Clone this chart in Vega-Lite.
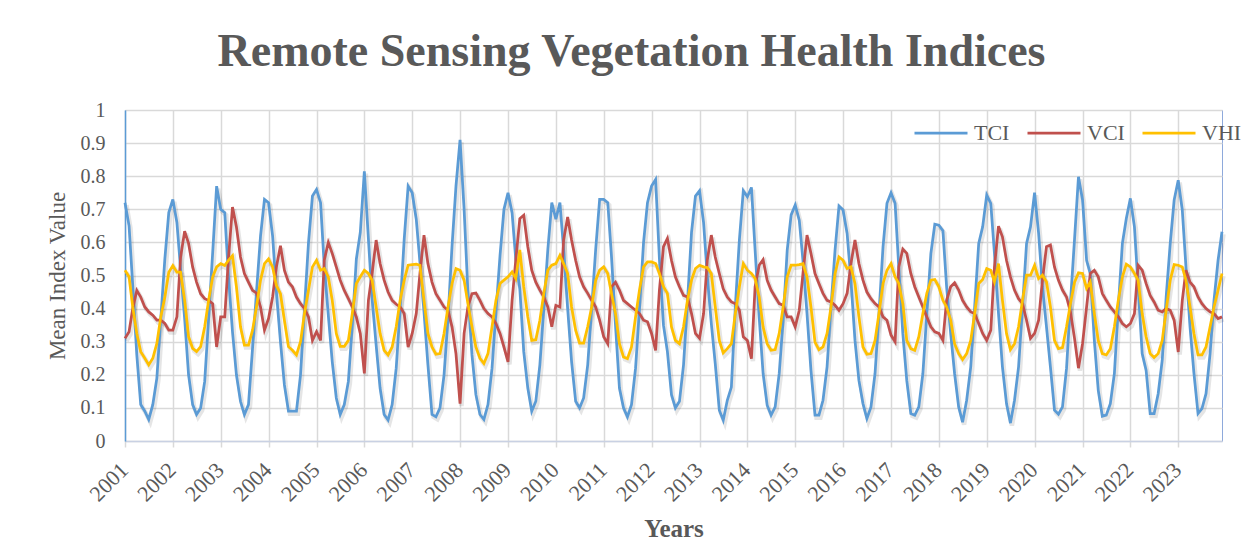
{
"$schema": "https://vega.github.io/schema/vega-lite/v6.json",
"autosize": {"type": "none"},
"padding": {"left": 125, "top": 110, "right": 28, "bottom": 118},
"width": 1097,
"height": 331,
"background": "white",
"title": {"text": "Remote Sensing Vegetation Health Indices", "font": "Liberation Serif", "fontSize": 46, "fontWeight": "bold", "color": "#595959", "anchor": "middle", "frame": "group", "dx": -42, "dy": 45, "baseline": "alphabetic", "offset": 33},
"data": {"format": {"parse": {"d": "utc:'%Y-%m'"}}, "values": [
{"d":"2001-01","TCI":0.72,"VCI":0.31,"VHI":0.516},{"d":"2001-02","TCI":0.65,"VCI":0.33,"VHI":0.496},{"d":"2001-03","TCI":0.47,"VCI":0.40,"VHI":0.405},{"d":"2001-04","TCI":0.26,"VCI":0.455,"VHI":0.325},{"d":"2001-05","TCI":0.11,"VCI":0.435,"VHI":0.27},{"d":"2001-06","TCI":0.09,"VCI":0.405,"VHI":0.25},{"d":"2001-07","TCI":0.065,"VCI":0.39,"VHI":0.23},{"d":"2001-08","TCI":0.11,"VCI":0.38,"VHI":0.25},{"d":"2001-09","TCI":0.19,"VCI":0.365,"VHI":0.295},{"d":"2001-10","TCI":0.37,"VCI":0.365,"VHI":0.375},{"d":"2001-11","TCI":0.55,"VCI":0.355,"VHI":0.435},{"d":"2001-12","TCI":0.69,"VCI":0.335,"VHI":0.51},
{"d":"2002-01","TCI":0.73,"VCI":0.335,"VHI":0.53},{"d":"2002-02","TCI":0.66,"VCI":0.375,"VHI":0.51},{"d":"2002-03","TCI":0.52,"VCI":0.555,"VHI":0.51},{"d":"2002-04","TCI":0.37,"VCI":0.634,"VHI":0.425},{"d":"2002-05","TCI":0.2,"VCI":0.597,"VHI":0.315},{"d":"2002-06","TCI":0.11,"VCI":0.526,"VHI":0.28},{"d":"2002-07","TCI":0.08,"VCI":0.48,"VHI":0.27},{"d":"2002-08","TCI":0.10,"VCI":0.445,"VHI":0.285},{"d":"2002-09","TCI":0.18,"VCI":0.43,"VHI":0.345},{"d":"2002-10","TCI":0.37,"VCI":0.425,"VHI":0.425},{"d":"2002-11","TCI":0.57,"VCI":0.415,"VHI":0.496},{"d":"2002-12","TCI":0.77,"VCI":0.284,"VHI":0.526},
{"d":"2003-01","TCI":0.70,"VCI":0.375,"VHI":0.536},{"d":"2003-02","TCI":0.69,"VCI":0.375,"VHI":0.53},{"d":"2003-03","TCI":0.5,"VCI":0.55,"VHI":0.546},{"d":"2003-04","TCI":0.33,"VCI":0.707,"VHI":0.56},{"d":"2003-05","TCI":0.2,"VCI":0.647,"VHI":0.466},{"d":"2003-06","TCI":0.12,"VCI":0.556,"VHI":0.345},{"d":"2003-07","TCI":0.08,"VCI":0.506,"VHI":0.29},{"d":"2003-08","TCI":0.11,"VCI":0.48,"VHI":0.29},{"d":"2003-09","TCI":0.28,"VCI":0.455,"VHI":0.335},{"d":"2003-10","TCI":0.45,"VCI":0.447,"VHI":0.405},{"d":"2003-11","TCI":0.62,"VCI":0.405,"VHI":0.486},{"d":"2003-12","TCI":0.73,"VCI":0.335,"VHI":0.536},
{"d":"2004-01","TCI":0.72,"VCI":0.37,"VHI":0.55},{"d":"2004-02","TCI":0.62,"VCI":0.435,"VHI":0.526},{"d":"2004-03","TCI":0.45,"VCI":0.526,"VHI":0.47},{"d":"2004-04","TCI":0.3,"VCI":0.59,"VHI":0.445},{"d":"2004-05","TCI":0.17,"VCI":0.516,"VHI":0.365},{"d":"2004-06","TCI":0.09,"VCI":0.48,"VHI":0.285},{"d":"2004-07","TCI":0.09,"VCI":0.466,"VHI":0.274},{"d":"2004-08","TCI":0.09,"VCI":0.435,"VHI":0.26},{"d":"2004-09","TCI":0.2,"VCI":0.415,"VHI":0.3},{"d":"2004-10","TCI":0.4,"VCI":0.4,"VHI":0.385},{"d":"2004-11","TCI":0.6,"VCI":0.375,"VHI":0.456},{"d":"2004-12","TCI":0.74,"VCI":0.304,"VHI":0.526},
{"d":"2005-01","TCI":0.76,"VCI":0.33,"VHI":0.546},{"d":"2005-02","TCI":0.72,"VCI":0.304,"VHI":0.516},{"d":"2005-03","TCI":0.53,"VCI":0.546,"VHI":0.521},{"d":"2005-04","TCI":0.38,"VCI":0.6,"VHI":0.496},{"d":"2005-05","TCI":0.24,"VCI":0.567,"VHI":0.425},{"d":"2005-06","TCI":0.13,"VCI":0.526,"VHI":0.325},{"d":"2005-07","TCI":0.08,"VCI":0.486,"VHI":0.286},{"d":"2005-08","TCI":0.11,"VCI":0.455,"VHI":0.286},{"d":"2005-09","TCI":0.18,"VCI":0.43,"VHI":0.304},{"d":"2005-10","TCI":0.35,"VCI":0.405,"VHI":0.385},{"d":"2005-11","TCI":0.55,"VCI":0.375,"VHI":0.476},{"d":"2005-12","TCI":0.63,"VCI":0.325,"VHI":0.496},
{"d":"2006-01","TCI":0.815,"VCI":0.204,"VHI":0.516},{"d":"2006-02","TCI":0.61,"VCI":0.425,"VHI":0.506},{"d":"2006-03","TCI":0.43,"VCI":0.506,"VHI":0.486},{"d":"2006-04","TCI":0.29,"VCI":0.607,"VHI":0.405},{"d":"2006-05","TCI":0.16,"VCI":0.536,"VHI":0.325},{"d":"2006-06","TCI":0.08,"VCI":0.486,"VHI":0.274},{"d":"2006-07","TCI":0.063,"VCI":0.45,"VHI":0.26},{"d":"2006-08","TCI":0.11,"VCI":0.425,"VHI":0.284},{"d":"2006-09","TCI":0.22,"VCI":0.413,"VHI":0.345},{"d":"2006-10","TCI":0.4,"VCI":0.405,"VHI":0.425},{"d":"2006-11","TCI":0.61,"VCI":0.385,"VHI":0.486},{"d":"2006-12","TCI":0.77,"VCI":0.284,"VHI":0.531},
{"d":"2007-01","TCI":0.75,"VCI":0.325,"VHI":0.533},{"d":"2007-02","TCI":0.67,"VCI":0.385,"VHI":0.534},{"d":"2007-03","TCI":0.54,"VCI":0.506,"VHI":0.531},{"d":"2007-04","TCI":0.39,"VCI":0.622,"VHI":0.425},{"d":"2007-05","TCI":0.23,"VCI":0.536,"VHI":0.325},{"d":"2007-06","TCI":0.08,"VCI":0.48,"VHI":0.284},{"d":"2007-07","TCI":0.073,"VCI":0.445,"VHI":0.262},{"d":"2007-08","TCI":0.1,"VCI":0.425,"VHI":0.264},{"d":"2007-09","TCI":0.2,"VCI":0.405,"VHI":0.325},{"d":"2007-10","TCI":0.37,"VCI":0.395,"VHI":0.405},{"d":"2007-11","TCI":0.59,"VCI":0.345,"VHI":0.476},{"d":"2007-12","TCI":0.77,"VCI":0.264,"VHI":0.521},
{"d":"2008-01","TCI":0.91,"VCI":0.113,"VHI":0.516},{"d":"2008-02","TCI":0.7,"VCI":0.325,"VHI":0.486},{"d":"2008-03","TCI":0.45,"VCI":0.405,"VHI":0.415},{"d":"2008-04","TCI":0.26,"VCI":0.445,"VHI":0.345},{"d":"2008-05","TCI":0.14,"VCI":0.447,"VHI":0.284},{"d":"2008-06","TCI":0.08,"VCI":0.425,"VHI":0.25},{"d":"2008-07","TCI":0.065,"VCI":0.4,"VHI":0.234},{"d":"2008-08","TCI":0.11,"VCI":0.385,"VHI":0.264},{"d":"2008-09","TCI":0.22,"VCI":0.375,"VHI":0.345},{"d":"2008-10","TCI":0.39,"VCI":0.355,"VHI":0.425},{"d":"2008-11","TCI":0.56,"VCI":0.325,"VHI":0.476},{"d":"2008-12","TCI":0.7,"VCI":0.284,"VHI":0.486},
{"d":"2009-01","TCI":0.75,"VCI":0.239,"VHI":0.496},{"d":"2009-02","TCI":0.69,"VCI":0.425,"VHI":0.511},{"d":"2009-03","TCI":0.55,"VCI":0.546,"VHI":0.491},{"d":"2009-04","TCI":0.46,"VCI":0.672,"VHI":0.577},{"d":"2009-05","TCI":0.27,"VCI":0.682,"VHI":0.466},{"d":"2009-06","TCI":0.16,"VCI":0.587,"VHI":0.375},{"d":"2009-07","TCI":0.09,"VCI":0.516,"VHI":0.304},{"d":"2009-08","TCI":0.12,"VCI":0.48,"VHI":0.306},{"d":"2009-09","TCI":0.23,"VCI":0.456,"VHI":0.365},{"d":"2009-10","TCI":0.4,"VCI":0.435,"VHI":0.446},{"d":"2009-11","TCI":0.58,"VCI":0.405,"VHI":0.516},{"d":"2009-12","TCI":0.72,"VCI":0.345,"VHI":0.531},
{"d":"2010-01","TCI":0.67,"VCI":0.41,"VHI":0.536},{"d":"2010-02","TCI":0.72,"VCI":0.405,"VHI":0.561},{"d":"2010-03","TCI":0.58,"VCI":0.607,"VHI":0.536},{"d":"2010-04","TCI":0.4,"VCI":0.677,"VHI":0.506},{"d":"2010-05","TCI":0.24,"VCI":0.607,"VHI":0.405},{"d":"2010-06","TCI":0.12,"VCI":0.546,"VHI":0.335},{"d":"2010-07","TCI":0.1,"VCI":0.496,"VHI":0.296},{"d":"2010-08","TCI":0.13,"VCI":0.466,"VHI":0.296},{"d":"2010-09","TCI":0.23,"VCI":0.446,"VHI":0.345},{"d":"2010-10","TCI":0.4,"VCI":0.425,"VHI":0.405},{"d":"2010-11","TCI":0.58,"VCI":0.405,"VHI":0.486},{"d":"2010-12","TCI":0.73,"VCI":0.365,"VHI":0.516},
{"d":"2011-01","TCI":0.73,"VCI":0.315,"VHI":0.526},{"d":"2011-02","TCI":0.72,"VCI":0.294,"VHI":0.506},{"d":"2011-03","TCI":0.56,"VCI":0.466,"VHI":0.446},{"d":"2011-04","TCI":0.35,"VCI":0.48,"VHI":0.385},{"d":"2011-05","TCI":0.16,"VCI":0.456,"VHI":0.294},{"d":"2011-06","TCI":0.1,"VCI":0.425,"VHI":0.254},{"d":"2011-07","TCI":0.073,"VCI":0.415,"VHI":0.249},{"d":"2011-08","TCI":0.11,"VCI":0.405,"VHI":0.284},{"d":"2011-09","TCI":0.22,"VCI":0.395,"VHI":0.375},{"d":"2011-10","TCI":0.4,"VCI":0.385,"VHI":0.456},{"d":"2011-11","TCI":0.6,"VCI":0.365,"VHI":0.526},{"d":"2011-12","TCI":0.72,"VCI":0.36,"VHI":0.541},
{"d":"2012-01","TCI":0.77,"VCI":0.325,"VHI":0.541},{"d":"2012-02","TCI":0.79,"VCI":0.274,"VHI":0.536},{"d":"2012-03","TCI":0.55,"VCI":0.456,"VHI":0.506},{"d":"2012-04","TCI":0.35,"VCI":0.587,"VHI":0.466},{"d":"2012-05","TCI":0.27,"VCI":0.612,"VHI":0.446},{"d":"2012-06","TCI":0.14,"VCI":0.546,"VHI":0.345},{"d":"2012-07","TCI":0.1,"VCI":0.496,"VHI":0.304},{"d":"2012-08","TCI":0.12,"VCI":0.466,"VHI":0.294},{"d":"2012-09","TCI":0.23,"VCI":0.44,"VHI":0.345},{"d":"2012-10","TCI":0.42,"VCI":0.435,"VHI":0.425},{"d":"2012-11","TCI":0.63,"VCI":0.385,"VHI":0.486},{"d":"2012-12","TCI":0.74,"VCI":0.325,"VHI":0.521},
{"d":"2013-01","TCI":0.756,"VCI":0.31,"VHI":0.531},{"d":"2013-02","TCI":0.66,"VCI":0.385,"VHI":0.526},{"d":"2013-03","TCI":0.5,"VCI":0.546,"VHI":0.524},{"d":"2013-04","TCI":0.355,"VCI":0.622,"VHI":0.506},{"d":"2013-05","TCI":0.234,"VCI":0.556,"VHI":0.405},{"d":"2013-06","TCI":0.093,"VCI":0.506,"VHI":0.304},{"d":"2013-07","TCI":0.063,"VCI":0.46,"VHI":0.266},{"d":"2013-08","TCI":0.123,"VCI":0.435,"VHI":0.279},{"d":"2013-09","TCI":0.163,"VCI":0.42,"VHI":0.294},{"d":"2013-10","TCI":0.405,"VCI":0.415,"VHI":0.385},{"d":"2013-11","TCI":0.607,"VCI":0.395,"VHI":0.466},{"d":"2013-12","TCI":0.756,"VCI":0.315,"VHI":0.536},
{"d":"2014-01","TCI":0.738,"VCI":0.304,"VHI":0.516},{"d":"2014-02","TCI":0.766,"VCI":0.249,"VHI":0.506},{"d":"2014-03","TCI":0.577,"VCI":0.466,"VHI":0.491},{"d":"2014-04","TCI":0.375,"VCI":0.531,"VHI":0.435},{"d":"2014-05","TCI":0.204,"VCI":0.548,"VHI":0.345},{"d":"2014-06","TCI":0.108,"VCI":0.486,"VHI":0.294},{"d":"2014-07","TCI":0.078,"VCI":0.456,"VHI":0.274},{"d":"2014-08","TCI":0.103,"VCI":0.435,"VHI":0.276},{"d":"2014-09","TCI":0.204,"VCI":0.415,"VHI":0.325},{"d":"2014-10","TCI":0.365,"VCI":0.41,"VHI":0.405},{"d":"2014-11","TCI":0.577,"VCI":0.375,"VHI":0.496},{"d":"2014-12","TCI":0.683,"VCI":0.375,"VHI":0.531},
{"d":"2015-01","TCI":0.713,"VCI":0.345,"VHI":0.531},{"d":"2015-02","TCI":0.667,"VCI":0.395,"VHI":0.533},{"d":"2015-03","TCI":0.546,"VCI":0.506,"VHI":0.536},{"d":"2015-04","TCI":0.385,"VCI":0.622,"VHI":0.496},{"d":"2015-05","TCI":0.214,"VCI":0.567,"VHI":0.405},{"d":"2015-06","TCI":0.078,"VCI":0.506,"VHI":0.299},{"d":"2015-07","TCI":0.078,"VCI":0.476,"VHI":0.276},{"d":"2015-08","TCI":0.123,"VCI":0.446,"VHI":0.284},{"d":"2015-09","TCI":0.224,"VCI":0.425,"VHI":0.325},{"d":"2015-10","TCI":0.405,"VCI":0.42,"VHI":0.405},{"d":"2015-11","TCI":0.577,"VCI":0.41,"VHI":0.506},{"d":"2015-12","TCI":0.71,"VCI":0.395,"VHI":0.556},
{"d":"2016-01","TCI":0.698,"VCI":0.415,"VHI":0.546},{"d":"2016-02","TCI":0.627,"VCI":0.446,"VHI":0.521},{"d":"2016-03","TCI":0.486,"VCI":0.536,"VHI":0.526},{"d":"2016-04","TCI":0.304,"VCI":0.607,"VHI":0.476},{"d":"2016-05","TCI":0.183,"VCI":0.536,"VHI":0.375},{"d":"2016-06","TCI":0.113,"VCI":0.486,"VHI":0.284},{"d":"2016-07","TCI":0.068,"VCI":0.45,"VHI":0.262},{"d":"2016-08","TCI":0.103,"VCI":0.43,"VHI":0.264},{"d":"2016-09","TCI":0.204,"VCI":0.415,"VHI":0.304},{"d":"2016-10","TCI":0.385,"VCI":0.405,"VHI":0.385},{"d":"2016-11","TCI":0.587,"VCI":0.375,"VHI":0.476},{"d":"2016-12","TCI":0.718,"VCI":0.365,"VHI":0.516},
{"d":"2017-01","TCI":0.75,"VCI":0.32,"VHI":0.536},{"d":"2017-02","TCI":0.718,"VCI":0.3,"VHI":0.496},{"d":"2017-03","TCI":0.526,"VCI":0.526,"VHI":0.476},{"d":"2017-04","TCI":0.325,"VCI":0.58,"VHI":0.415},{"d":"2017-05","TCI":0.183,"VCI":0.567,"VHI":0.304},{"d":"2017-06","TCI":0.083,"VCI":0.506,"VHI":0.279},{"d":"2017-07","TCI":0.078,"VCI":0.466,"VHI":0.274},{"d":"2017-08","TCI":0.103,"VCI":0.435,"VHI":0.315},{"d":"2017-09","TCI":0.204,"VCI":0.405,"VHI":0.385},{"d":"2017-10","TCI":0.385,"VCI":0.375,"VHI":0.446},{"d":"2017-11","TCI":0.567,"VCI":0.345,"VHI":0.486},{"d":"2017-12","TCI":0.655,"VCI":0.33,"VHI":0.488},
{"d":"2018-01","TCI":0.652,"VCI":0.325,"VHI":0.466},{"d":"2018-02","TCI":0.635,"VCI":0.304,"VHI":0.425},{"d":"2018-03","TCI":0.466,"VCI":0.425,"VHI":0.405},{"d":"2018-04","TCI":0.325,"VCI":0.466,"VHI":0.365},{"d":"2018-05","TCI":0.204,"VCI":0.478,"VHI":0.294},{"d":"2018-06","TCI":0.103,"VCI":0.456,"VHI":0.264},{"d":"2018-07","TCI":0.057,"VCI":0.425,"VHI":0.246},{"d":"2018-08","TCI":0.123,"VCI":0.405,"VHI":0.264},{"d":"2018-09","TCI":0.224,"VCI":0.39,"VHI":0.304},{"d":"2018-10","TCI":0.405,"VCI":0.385,"VHI":0.385},{"d":"2018-11","TCI":0.597,"VCI":0.355,"VHI":0.476},{"d":"2018-12","TCI":0.647,"VCI":0.325,"VHI":0.488},
{"d":"2019-01","TCI":0.743,"VCI":0.304,"VHI":0.521},{"d":"2019-02","TCI":0.718,"VCI":0.335,"VHI":0.516},{"d":"2019-03","TCI":0.567,"VCI":0.526,"VHI":0.481},{"d":"2019-04","TCI":0.385,"VCI":0.649,"VHI":0.536},{"d":"2019-05","TCI":0.224,"VCI":0.617,"VHI":0.425},{"d":"2019-06","TCI":0.113,"VCI":0.546,"VHI":0.325},{"d":"2019-07","TCI":0.054,"VCI":0.496,"VHI":0.276},{"d":"2019-08","TCI":0.123,"VCI":0.456,"VHI":0.294},{"d":"2019-09","TCI":0.224,"VCI":0.43,"VHI":0.345},{"d":"2019-10","TCI":0.405,"VCI":0.415,"VHI":0.425},{"d":"2019-11","TCI":0.597,"VCI":0.365,"VHI":0.501},{"d":"2019-12","TCI":0.647,"VCI":0.31,"VHI":0.501},
{"d":"2020-01","TCI":0.75,"VCI":0.325,"VHI":0.531},{"d":"2020-02","TCI":0.627,"VCI":0.365,"VHI":0.491},{"d":"2020-03","TCI":0.466,"VCI":0.486,"VHI":0.501},{"d":"2020-04","TCI":0.345,"VCI":0.587,"VHI":0.481},{"d":"2020-05","TCI":0.224,"VCI":0.592,"VHI":0.405},{"d":"2020-06","TCI":0.093,"VCI":0.526,"VHI":0.304},{"d":"2020-07","TCI":0.081,"VCI":0.486,"VHI":0.279},{"d":"2020-08","TCI":0.103,"VCI":0.456,"VHI":0.282},{"d":"2020-09","TCI":0.22,"VCI":0.435,"VHI":0.345},{"d":"2020-10","TCI":0.42,"VCI":0.39,"VHI":0.415},{"d":"2020-11","TCI":0.61,"VCI":0.31,"VHI":0.48},{"d":"2020-12","TCI":0.798,"VCI":0.22,"VHI":0.508},
{"d":"2021-01","TCI":0.728,"VCI":0.294,"VHI":0.506},{"d":"2021-02","TCI":0.546,"VCI":0.405,"VHI":0.461},{"d":"2021-03","TCI":0.506,"VCI":0.506,"VHI":0.481},{"d":"2021-04","TCI":0.304,"VCI":0.516,"VHI":0.385},{"d":"2021-05","TCI":0.153,"VCI":0.496,"VHI":0.304},{"d":"2021-06","TCI":0.075,"VCI":0.446,"VHI":0.264},{"d":"2021-07","TCI":0.078,"VCI":0.425,"VHI":0.26},{"d":"2021-08","TCI":0.113,"VCI":0.405,"VHI":0.279},{"d":"2021-09","TCI":0.204,"VCI":0.39,"VHI":0.345},{"d":"2021-10","TCI":0.405,"VCI":0.375,"VHI":0.425},{"d":"2021-11","TCI":0.597,"VCI":0.355,"VHI":0.496},{"d":"2021-12","TCI":0.672,"VCI":0.345,"VHI":0.534},
{"d":"2022-01","TCI":0.733,"VCI":0.355,"VHI":0.526},{"d":"2022-02","TCI":0.647,"VCI":0.385,"VHI":0.506},{"d":"2022-03","TCI":0.466,"VCI":0.531,"VHI":0.486},{"d":"2022-04","TCI":0.264,"VCI":0.516,"VHI":0.385},{"d":"2022-05","TCI":0.214,"VCI":0.476,"VHI":0.315},{"d":"2022-06","TCI":0.083,"VCI":0.44,"VHI":0.264},{"d":"2022-07","TCI":0.083,"VCI":0.42,"VHI":0.252},{"d":"2022-08","TCI":0.143,"VCI":0.395,"VHI":0.264},{"d":"2022-09","TCI":0.244,"VCI":0.39,"VHI":0.304},{"d":"2022-10","TCI":0.435,"VCI":0.4,"VHI":0.395},{"d":"2022-11","TCI":0.597,"VCI":0.395,"VHI":0.486},{"d":"2022-12","TCI":0.728,"VCI":0.365,"VHI":0.533},
{"d":"2023-01","TCI":0.788,"VCI":0.269,"VHI":0.531},{"d":"2023-02","TCI":0.698,"VCI":0.425,"VHI":0.526},{"d":"2023-03","TCI":0.526,"VCI":0.516,"VHI":0.486},{"d":"2023-04","TCI":0.345,"VCI":0.48,"VHI":0.405},{"d":"2023-05","TCI":0.204,"VCI":0.466,"VHI":0.325},{"d":"2023-06","TCI":0.083,"VCI":0.435,"VHI":0.26},{"d":"2023-07","TCI":0.098,"VCI":0.415,"VHI":0.26},{"d":"2023-08","TCI":0.143,"VCI":0.4,"VHI":0.284},{"d":"2023-09","TCI":0.264,"VCI":0.39,"VHI":0.345},{"d":"2023-10","TCI":0.425,"VCI":0.385,"VHI":0.405},{"d":"2023-11","TCI":0.546,"VCI":0.37,"VHI":0.456},{"d":"2023-12","TCI":0.632,"VCI":0.375,"VHI":0.506}
]},
"transform": [{"fold": ["TCI", "VCI", "VHI"], "as": ["series", "value"]}],
"encoding": {
  "x": {"field": "d", "type": "temporal", "scale": {"type": "utc", "nice": false},
    "axis": {"title": "Years", "titleFont": "Liberation Serif", "titleFontSize": 25, "titleFontWeight": "bold", "titleColor": "#595959", "titlePadding": 12,
      "format": "%Y", "tickCount": {"interval": "year", "step": 1}, "labelAngle": -45, "labelFont": "Liberation Serif", "labelFontSize": 22, "labelColor": "#595959", "labelPadding": 12, "labelOffset": -8, "labelOverlap": false, "labelFlush": false,
      "ticks": true, "tickSize": 6, "tickColor": "#d9d9d9", "tickWidth": 1.5, "domainColor": "#c9d1e3", "domainWidth": 1.5,
      "grid": true, "gridColor": "#d9d9d9", "gridWidth": 1.5}},
  "y": {"field": "value", "type": "quantitative", "scale": {"domain": [0, 1], "nice": false},
    "axis": {"title": "Mean Index Value", "titleFont": "Liberation Serif", "titleFontSize": 23, "titleFontWeight": "normal", "titleColor": "#595959", "titlePadding": 11,
      "values": [0, 0.1, 0.2, 0.3, 0.4, 0.5, 0.6, 0.7, 0.8, 0.9, 1], "format": "~g", "labelFont": "Liberation Serif", "labelFontSize": 20, "labelColor": "#595959", "labelPadding": 20,
      "ticks": false, "tickSize": 0, "domainColor": "#5B9BD5", "domainWidth": 1.5,
      "grid": true, "gridColor": "#d9d9d9", "gridWidth": 1.5}}
},
"layer": [
  {"mark": {"type": "line", "strokeWidth": 4.5, "color": "#000000", "opacity": 0.1, "xOffset": 1.5, "yOffset": 2.5},
   "encoding": {"detail": {"field": "series", "type": "nominal"}}},
  {"mark": {"type": "line", "strokeWidth": 2.75},
   "encoding": {"color": {"field": "series", "type": "nominal",
    "scale": {"domain": ["TCI", "VCI", "VHI"], "range": ["#5B9BD5", "#C0504D", "#FFC000"]},
    "legend": {"title": null, "orient": "none", "legendX": 788, "legendY": -5, "direction": "horizontal", "symbolType": "stroke", "symbolSize": 2809, "symbolStrokeWidth": 2.75, "labelFont": "Liberation Serif", "labelFontSize": 22, "labelColor": "#595959", "labelOffset": 5, "columnPadding": 12, "padding": 0}}}}
],
"config": {"view": {"stroke": "#8EA9DB", "strokeWidth": 1}}
}
